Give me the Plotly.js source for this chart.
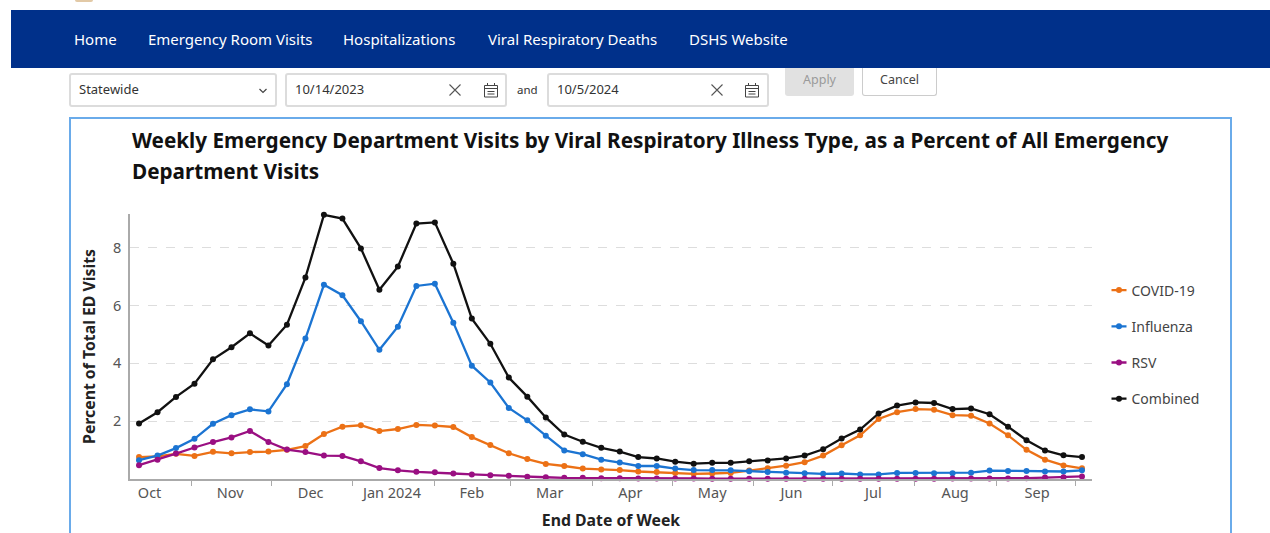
<!DOCTYPE html>
<html>
<head>
<meta charset="utf-8">
<script src="https://cdn.plot.ly/plotly-3.0.1.min.js"></script>
<style>
html,body{margin:0;padding:0;width:1270px;height:533px;overflow:hidden;background:#fff;font-family:"Noto Sans",sans-serif}
.abs{position:absolute;box-sizing:border-box}
#logo{left:75px;top:0;width:18px;height:2px;background:#e2c9a6;border-radius:0 0 9px 9px}
#nav{left:11px;top:10px;width:1259px;height:58px;background:#00308a}
.nl{position:absolute;top:29px;color:#fff;font-size:15px;line-height:20px;white-space:nowrap}
.field{border:2px solid #dcdcdc;border-radius:3px;height:34px;background:#fff;color:#333;font-size:13px;line-height:28px;padding-left:8px;white-space:nowrap}
.btn{top:68px;height:28px;border-radius:0 0 3px 3px;font-size:12.5px;text-align:center;line-height:24px}
#frame{left:69px;top:117px;width:1163px;height:430px;border:2px solid #6aabea}
svg.ic{position:absolute}
#plot{left:0;top:0;width:1270px;height:533px}
</style>
</head>
<body>
<div class="abs" id="logo"></div>
<div class="abs" id="nav"></div>
<div class="nl" style="left:74px">Home</div>
<div class="nl" style="left:148px">Emergency Room Visits</div>
<div class="nl" style="left:343px">Hospitalizations</div>
<div class="nl" style="left:488px">Viral Respiratory Deaths</div>
<div class="nl" style="left:689px">DSHS Website</div>

<div class="abs field" style="left:69px;top:73px;width:208px">Statewide</div>
<svg class="ic" style="left:258px;top:87px" width="10" height="8"><path d="M1.5 2 L5 5.5 L8.5 2" fill="none" stroke="#444" stroke-width="1.2"/></svg>

<div class="abs field" style="left:285px;top:73px;width:222px">10/14/2023</div>
<svg class="ic" style="left:448px;top:83px" width="14" height="14"><path d="M1.5 1.5 L12.5 12.5 M12.5 1.5 L1.5 12.5" stroke="#555" stroke-width="1.1"/></svg>
<svg class="ic" style="left:483px;top:82px" width="16" height="16"><path d="M1.5 3.5 H14.5 V15 H1.5 Z M1.5 6.5 H14.5 M4.5 1 V3.5 M11.5 1 V3.5 M4.5 9.5 H11.5 M4.5 12 H11.5" fill="none" stroke="#444" stroke-width="1"/></svg>
<div class="abs" style="left:517px;top:81px;font-size:11.5px;color:#333;line-height:18px">and</div>
<div class="abs field" style="left:547px;top:73px;width:222px">10/5/2024</div>
<svg class="ic" style="left:710px;top:83px" width="14" height="14"><path d="M1.5 1.5 L12.5 12.5 M12.5 1.5 L1.5 12.5" stroke="#555" stroke-width="1.1"/></svg>
<svg class="ic" style="left:744px;top:82px" width="16" height="16"><path d="M1.5 3.5 H14.5 V15 H1.5 Z M1.5 6.5 H14.5 M4.5 1 V3.5 M11.5 1 V3.5 M4.5 9.5 H11.5 M4.5 12 H11.5" fill="none" stroke="#444" stroke-width="1"/></svg>
<div class="abs btn" style="left:785px;width:69px;background:#e1e1e1;color:#9a9a9a;">Apply</div>
<div class="abs btn" style="left:862px;width:75px;background:#fff;border:1px solid #ccc;border-top:none;color:#444">Cancel</div>
<div class="abs" id="frame"></div>
<div class="abs" id="plot"></div>

<script>
const titleLine1 = "Weekly Emergency Department Visits by Viral Respiratory Illness Type, as a Percent of All Emergency";
const titleLine2 = "Department Visits";
const weekEnds = ["2023-10-14","2023-10-21","2023-10-28","2023-11-04","2023-11-11","2023-11-18","2023-11-25","2023-12-02","2023-12-09","2023-12-16","2023-12-23","2023-12-30","2024-01-06","2024-01-13","2024-01-20","2024-01-27","2024-02-03","2024-02-10","2024-02-17","2024-02-24","2024-03-02","2024-03-09","2024-03-16","2024-03-23","2024-03-30","2024-04-06","2024-04-13","2024-04-20","2024-04-27","2024-05-04","2024-05-11","2024-05-18","2024-05-25","2024-06-01","2024-06-08","2024-06-15","2024-06-22","2024-06-29","2024-07-06","2024-07-13","2024-07-20","2024-07-27","2024-08-03","2024-08-10","2024-08-17","2024-08-24","2024-08-31","2024-09-07","2024-09-14","2024-09-21","2024-09-28","2024-10-05"];
const covid = [0.76,0.78,0.87,0.80,0.94,0.89,0.93,0.95,1.01,1.14,1.56,1.81,1.86,1.66,1.73,1.87,1.85,1.80,1.45,1.18,0.89,0.69,0.52,0.45,0.36,0.33,0.31,0.26,0.24,0.21,0.18,0.19,0.21,0.29,0.37,0.46,0.58,0.81,1.17,1.51,2.08,2.31,2.42,2.40,2.21,2.19,1.92,1.51,1.01,0.67,0.47,0.37];
const influenza = [0.65,0.81,1.07,1.39,1.91,2.21,2.41,2.34,3.28,4.86,6.72,6.36,5.46,4.47,5.27,6.68,6.76,5.41,3.92,3.34,2.46,2.03,1.50,0.99,0.86,0.67,0.57,0.45,0.45,0.36,0.31,0.31,0.30,0.27,0.24,0.22,0.20,0.18,0.19,0.16,0.16,0.21,0.21,0.20,0.20,0.22,0.29,0.28,0.28,0.26,0.26,0.30];
const rsv = [0.48,0.67,0.88,1.09,1.28,1.44,1.66,1.28,1.02,0.93,0.81,0.80,0.61,0.38,0.30,0.25,0.23,0.19,0.16,0.13,0.11,0.08,0.06,0.04,0.04,0.03,0.03,0.02,0.02,0.02,0.02,0.01,0.01,0.01,0.01,0.01,0.01,0.01,0.01,0.01,0.01,0.01,0.01,0.01,0.02,0.02,0.02,0.02,0.03,0.05,0.06,0.09];
const combined = [1.92,2.31,2.84,3.30,4.14,4.56,5.04,4.62,5.34,6.97,9.14,9.01,7.98,6.55,7.35,8.84,8.88,7.45,5.55,4.68,3.51,2.85,2.13,1.54,1.29,1.08,0.95,0.76,0.71,0.60,0.53,0.56,0.56,0.61,0.64,0.71,0.81,1.03,1.40,1.71,2.27,2.54,2.65,2.63,2.42,2.44,2.24,1.81,1.34,0.99,0.82,0.76];
const monthLabels = ["Oct","Nov","Dec","Jan 2024","Feb","Mar","Apr","May","Jun","Jul","Aug","Sep"];
const monthLabelDates = ["2023-10-18","2023-11-17 12:00","2023-12-18","2024-01-17 18:00","2024-02-17","2024-03-17 12:00","2024-04-17","2024-05-18","2024-06-17","2024-07-18","2024-08-18","2024-09-18"];
const monthTickDates = ["2023-11-03","2023-12-03","2024-01-03","2024-02-03","2024-03-02 12:00","2024-04-02 12:00","2024-05-03","2024-06-02 12:00","2024-07-02 12:00","2024-08-02 12:00","2024-09-02 12:00","2024-10-02 12:00"];
const yTicks = [2,4,6,8];

const fam = '"Noto Sans", sans-serif';
function series(name, y, color){
  return {type:'scatter',mode:'lines+markers',name,x:weekEnds,y,legendgroup:name,cliponaxis:false,
    line:{color,width:2.3},marker:{color,size:6}};
}
const traces = [
  series('COVID-19',covid,'#ec7116'),
  series('Influenza',influenza,'#1b74d2'),
  series('RSV',rsv,'#9a0f82'),
  series('Combined',combined,'#111111')
];
const titleFont = {family:fam,size:20.7,color:'#111',weight:700};
const layout = {
  width:1270,height:533,paper_bgcolor:'rgba(0,0,0,0)',plot_bgcolor:'rgba(0,0,0,0)',
  margin:{l:130,r:178,t:214,b:53.6,pad:0},
  font:{family:fam,color:'#555'},
  title:{text:titleLine1,x:132/1270,xanchor:'left',xref:'container',y:1-141/533,yanchor:'middle',font:titleFont},
  annotations:[{text:titleLine2,xref:'paper',yref:'paper',x:0,xanchor:'left',y:(479.4-170.5)/265.4,yanchor:'middle',showarrow:false,font:titleFont}],
  xaxis:{type:'date',range:['2023-10-10 14:00','2024-10-08 19:00'],tickmode:'array',tickvals:monthLabelDates,ticktext:monthLabels,
    ticks:'',tickfont:{size:14.5,color:'#555'},showgrid:false,zeroline:false,showline:true,linecolor:'#aaaaaa',linewidth:1.5,
    minor:{tickmode:'array',tickvals:monthTickDates,ticks:'outside',ticklen:5,tickcolor:'#aaaaaa',tickwidth:1,showgrid:false},
    title:{text:'<b>End Date of Week</b>',font:{size:15.8,color:'#222'},standoff:14}},
  yaxis:{range:[0,9.17],tickmode:'array',tickvals:yTicks,ticks:'',ticklabelstandoff:4,tickfont:{size:14.5,color:'#555'},
    showgrid:true,gridcolor:'#dddddd',griddash:'dash',gridwidth:1,zeroline:false,showline:true,linecolor:'#aaaaaa',linewidth:1.5,
    title:{text:'<b>Percent of Total ED Visits</b>',font:{size:15.8,color:'#222'},standoff:14}},
  showlegend:true,
  legend:{x:1099/1270*1270/962-130/962,xanchor:'left',y:0.5075,yanchor:'middle',xref:'paper',tracegroupgap:15,
    font:{size:14,color:'#444'},itemclick:false,itemdoubleclick:false,traceorder:'grouped'}
};
Plotly.newPlot('plot',traces,layout,{displayModeBar:false}).then(function(gd){
  gd.querySelectorAll('.legend .legendlines path').forEach(p=>p.setAttribute('d','M12.5,0h15'));
  gd.querySelectorAll('.legend text.legendtext').forEach(t=>t.setAttribute('x','32.5'));
});
</script>
</body>
</html>
